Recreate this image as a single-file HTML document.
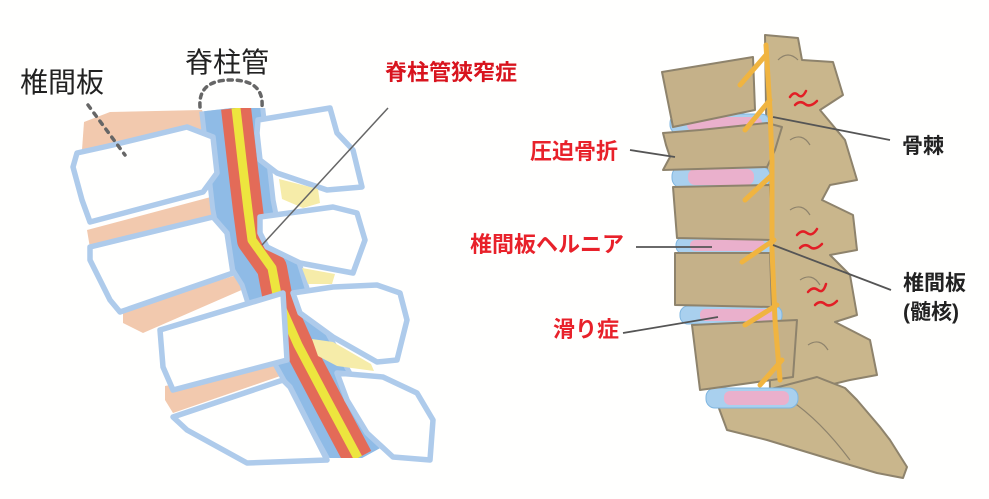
<!DOCTYPE html>
<html><head><meta charset="utf-8"><style>
html,body{margin:0;padding:0;background:#fffffe;}
svg{display:block}
text{font-family:"Liberation Sans","Noto Sans CJK JP",sans-serif;}
</style></head><body>
<svg width="989" height="499" viewBox="0 0 989 499" xmlns="http://www.w3.org/2000/svg">
<rect width="989" height="499" fill="#fffffe"/>
<!-- LEFT -->
<g stroke="none">
<polygon points="82,150 84,122 110,112 202,110 210,130 82,152" fill="#f2c9ae"/>
<polygon points="87,230 237,190 239,208 90,248" fill="#f2c9ae"/>
<polygon points="123,310 253,270 260,282 143,333 123,323" fill="#f2c9ae"/>
<polygon points="165,386 290,360 292,372 173,413 165,400" fill="#f2c9ae"/>
</g>
<g fill="none" stroke-linejoin="round" stroke-linecap="butt">
<polyline points="232,108 238,160 243,205 250,240 270,272 282,310 302,350 330,400 362,458" stroke="#aecbeb" stroke-width="66"/>
<polyline points="232,108 238,160 243,205 250,240 270,272 282,310 302,350 330,400 362,458" stroke="#8fbbe6" stroke-width="56"/>
<polyline points="236,108 242,160 248,210 252,240 272,268 278,300 298,345 327,400 358,458" stroke="#e36b58" stroke-width="30"/>
<polyline points="236,108 242,160 248,210 252,240 272,268 278,300 298,345 327,400 358,458" stroke="#ede53e" stroke-width="9"/>
</g>
<rect x="190" y="458" width="220" height="20" fill="#fffffe"/>
<rect x="180" y="90" width="100" height="18" fill="#fffffe"/>
<g stroke="#aecbeb" stroke-width="5.5" stroke-linejoin="round" fill="#fffffe">
<polygon points="77,153 113,145 187,127 213,137 217,173 203,192 90,222 82,200 73,167"/>
<polygon points="90,247 213,217 227,233 233,273 120,312 110,300 90,260"/>
<polygon points="160,330 283,293 287,360 173,390 163,367"/>
<polygon points="173,417 283,380 290,387 327,460 247,463 187,430"/>
<polygon points="258,120 330,108 337,133 353,150 362,187 327,190 277,173 260,160 257,133"/>
<polygon points="260,217 333,207 357,213 365,240 353,273 300,263 267,247 260,233"/>
<polygon points="293,293 333,287 377,285 400,293 407,320 397,360 377,362 333,337 300,313"/>
<polygon points="337,373 383,377 417,393 433,420 430,460 393,457 367,433 347,400"/>
</g>
<g fill="#f6eca9" stroke="none">
<polygon points="279,179 318,189 320,203 303,208 282,199"/>
<polygon points="302,268 335,274 332,284 308,284"/>
<polygon points="312,339 333,342 371,364 374,371 337,366 318,356"/>
</g>
<path d="M200,107 Q198,80 231,80 Q264,80 262,107" fill="none" stroke="#666" stroke-width="3.5" stroke-dasharray="4,5" stroke-linecap="round"/>
<path d="M88,105 L125,155" stroke="#666" stroke-width="3.5" stroke-dasharray="4,6" stroke-linecap="round"/>
<line x1="388" y1="108" x2="262" y2="245" stroke="#666" stroke-width="1.5"/>
<text x="20" y="92" font-size="28" fill="#222">椎間板</text>
<text x="185" y="72" font-size="28" fill="#222">脊柱管</text>
<text x="385" y="80" font-size="22" font-weight="bold" fill="#d8141e">脊柱管狭窄症</text>
<!-- RIGHT -->
<g stroke="#8e836c" stroke-width="2" stroke-linejoin="round" fill="#c9b68c">
<polygon points="765,35 798,38 802,60 833,62 843,95 820,110 845,140 857,180 830,185 822,200 853,215 857,250 830,255 850,275 857,315 835,322 870,340 877,375 850,380 800,392 770,392"/>
<polygon points="717,403 767,390 817,377 845,388 857,400 880,427 890,440 907,467 903,478 877,473 833,460 767,440 727,430"/>
</g>
<g stroke="#8e836c" stroke-width="1.2" fill="none">
<path d="M778,60 q10,-10 20,0 M790,140 q12,-8 20,5 M790,210 q12,-8 20,5 M800,280 q12,-8 20,5 M808,345 q12,-8 20,5 M790,400 q30,20 60,60"/>
</g>
<g stroke="#7fb6e0" stroke-width="1">
<rect x="670" y="114" width="100" height="20" rx="9" fill="#a9d0ee"/>
<rect x="672" y="166" width="98" height="22" rx="10" fill="#a9d0ee"/>
<rect x="676" y="237" width="98" height="17" rx="8" fill="#a9d0ee"/>
<rect x="680" y="306" width="102" height="18" rx="8" fill="#a9d0ee"/>
<rect x="706" y="388" width="92" height="20" rx="9" fill="#a9d0ee"/>
</g>
<g fill="#eab0cc" stroke="none">
<rect x="687" y="117" width="75" height="14" rx="6"/>
<rect x="688" y="169" width="66" height="16" rx="7"/>
<rect x="690" y="240" width="75" height="11" rx="5"/>
<rect x="700" y="309" width="75" height="12" rx="5"/>
<rect x="724" y="391" width="65" height="14" rx="6"/>
</g>
<g stroke="#8e836c" stroke-width="2" stroke-linejoin="round" fill="#c5b189">
<polygon points="662,72 753,57 755,110 673,127"/>
<polygon points="663,133 700,130 767,123 782,127 775,150 767,167 663,170 670,157 666,145"/>
<polygon points="673,187 770,185 772,240 677,238"/>
<polygon points="675,253 770,253 772,307 675,305"/>
<polygon points="692,325 797,320 793,377 700,390"/>
</g>
<g stroke="#f0b440" fill="none" stroke-linecap="round" stroke-width="5">
<path d="M766,45 L770,110 L772,160 L772,250 L775,320 L780,380"/>
<path d="M766,55 L740,85"/>
<path d="M770,100 L745,130"/>
<path d="M772,175 L745,200"/>
<path d="M774,240 L742,262"/>
<path d="M777,305 L745,325"/>
<path d="M782,360 L760,385"/>
</g>
<g stroke="#e21e26" stroke-width="2.5" fill="none" stroke-linecap="round">
<path d="M790,97 q4,-6 8,-2 t8,-4"/>
<path d="M795,105 q5,-5 10,-1 t12,-3"/>
<path d="M797,235 q5,-6 10,-2 t10,-4"/>
<path d="M800,248 q5,-5 10,-1 t12,-3"/>
<path d="M808,292 q5,-6 10,-2 t8,-6"/>
<path d="M815,305 q5,-5 10,-1 t12,-3"/>
</g>
<g stroke="#555" stroke-width="1.8">
<line x1="890" y1="140" x2="773" y2="117"/>
<line x1="630" y1="150" x2="675" y2="157"/>
<line x1="636" y1="247" x2="712" y2="247"/>
<line x1="891" y1="290" x2="773" y2="245"/>
<line x1="623" y1="333" x2="718" y2="317"/>
</g>
<g font-size="22" font-weight="bold">
<text x="530" y="159" fill="#e8212a">圧迫骨折</text>
<text x="470" y="252" fill="#e8212a">椎間板ヘルニア</text>
<text x="553" y="337" fill="#e8212a">滑り症</text>
<text x="902" y="153" font-size="21" fill="#222">骨棘</text>
<text x="903" y="290" font-size="21" fill="#222">椎間板</text>
<text x="903" y="319" font-size="21" fill="#222">(髄核)</text>
</g>
</svg>
</body></html>
